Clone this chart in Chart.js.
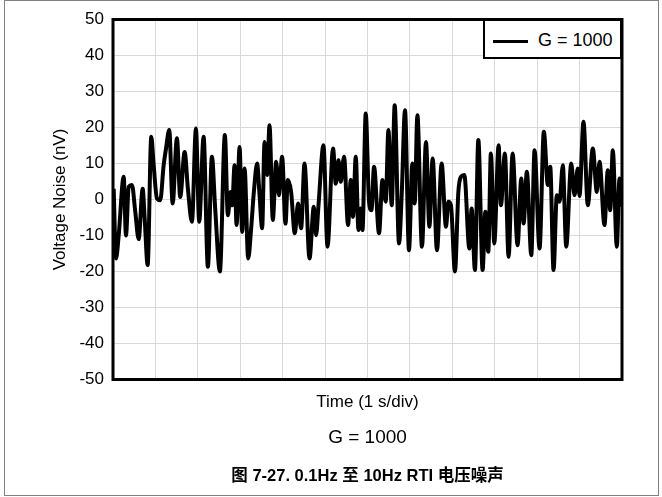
<!DOCTYPE html>
<html>
<head>
<meta charset="utf-8">
<script src="https://cdn.jsdelivr.net/npm/chart.js@4/dist/chart.umd.min.js"></script>
<style>
  html, body { margin: 0; padding: 0; background: #fff; }
  #wrap { position: relative; width: 662px; height: 497px; overflow: hidden;
          font-family: "Liberation Sans", Arial, "Noto Sans CJK SC", sans-serif; }
  #frame { position: absolute; left: 4px; top: 0px; width: 653px; height: 494px; border: 1px solid #808080; }
  #c { position: absolute; left: 0; top: 0; }
  #legend { position: absolute; left: 483px; top: 19px; width: 135px; height: 36px;
            border: 2px solid #000; background: #fff; }
  #legend .sw { position: absolute; left: 8px; top: 19px; width: 35px; height: 3px; background: #000; }
  #legend .tx { position: absolute; left: 53px; top: 9px; font-size: 18px; color: #000; white-space: nowrap; }
  .cap { position: absolute; left: 113px; width: 509px; text-align: center; color: #000; white-space: nowrap; }
  #gain { top: 426px; font-size: 19px; }
  #title { top: 462px; font-size: 16.5px; font-weight: bold; font-family: "Liberation Sans", Arial, "Noto Sans CJK SC", sans-serif; }
</style>
</head>
<body>
<div id="wrap">
  <div id="frame"></div>
  <canvas id="c" width="662" height="497"></canvas>
  <div id="legend"><div class="sw"></div><div class="tx"></div></div>
  <div class="cap" id="gain"></div>
  <div class="cap" id="title"></div>
</div>
<script>
// ---- data ----
const seriesLabel = "G = 1000";
const xAxisTitle = "Time (1 s/div)";
const yAxisTitle = "Voltage Noise (nV)";
const gainText = "G = 1000";
const figureTitle = "图 7-27. 0.1Hz 至 10Hz RTI 电压噪声";
const yTickValues = [50, 40, 30, 20, 10, 0, -10, -20, -30, -40, -50];

// time in seconds (1 s per division, 12 divisions)
const timeS = [
  0.016, 0.071, 0.134, 0.252, 0.306, 0.370, 0.447, 0.525, 0.605, 0.699,
  0.747, 0.817, 0.902, 0.959, 1.036, 1.114, 1.194, 1.248, 1.326, 1.406,
  1.507, 1.585, 1.689, 1.766, 1.861, 1.955, 2.032, 2.136, 2.237, 2.332,
  2.409, 2.520, 2.638, 2.708, 2.772, 2.810, 2.866, 2.913, 2.984, 3.045,
  3.102, 3.187, 3.257, 3.321, 3.398, 3.455, 3.516, 3.573, 3.634, 3.690,
  3.768, 3.846, 3.910, 3.987, 4.067, 4.122, 4.199, 4.286, 4.364, 4.435,
  4.515, 4.633, 4.734, 4.788, 4.845, 4.962, 5.057, 5.188, 5.252, 5.316,
  5.370, 5.447, 5.542, 5.605, 5.659, 5.723, 5.787, 5.841, 5.881, 5.959,
  6.036, 6.093, 6.154, 6.272, 6.352, 6.430, 6.493, 6.571, 6.641, 6.743,
  6.806, 6.884, 6.978, 7.058, 7.113, 7.176, 7.284, 7.379, 7.459, 7.536,
  7.638, 7.748, 7.850, 7.906, 7.967, 8.062, 8.142, 8.203, 8.283, 8.401,
  8.455, 8.533, 8.613, 8.714, 8.778, 8.848, 8.909, 8.989, 9.091, 9.145,
  9.239, 9.326, 9.421, 9.538, 9.626, 9.680, 9.757, 9.861, 9.939, 10.056,
  10.158, 10.252, 10.308, 10.386, 10.464, 10.528, 10.605, 10.685, 10.803, 10.880,
  10.958, 10.998, 11.092, 11.194, 11.312, 11.406, 11.470, 11.587, 11.665, 11.722,
  11.783, 11.878, 11.941, 11.976
];
// voltage noise in nV
const noiseNV = [
  3, -16.4, -10, 6.3, -10, 3.5, 4, -3.4, -11, 3,
  -5.3, -18.2, 17.4, 9.5, 0.3, -0.2, 9.5, 14, 19.3, -1.1,
  17, 0.7, 13.2, 3, -6.2, 19.7, -6.2, 17.4, -18.7, 11.9,
  -2.5, -20, 17.9, -4.4, 2.1, -1.6, 9.5, -7.1, 14.6, -9,
  8.6, -16.4, -8, 2.1, 10, 1.2, -8, 16, 6.8, 20.6,
  -5.7, 10.5, 1.2, 11.9, -6.7, 5.4, 2.1, -9.4, -1.1, -8,
  10, -16.4, -2, -9.9, -1.6, 15.1, -13.1, 14.2, 4.4, 10.9,
  4.9, 11.9, -7.1, 5.4, -4.8, 11.9, -8.5, -2.5, -8.5, 23.9,
  -0.6, -3, 9.1, -9.4, 5.4, -0.6, 19.3, -1.6, 26.2, -12.2,
  1.2, 24.8, -14.1, 10, -1.1, 23.4, -13.1, 16, -7.6, 11.4,
  -14.1, 10, -7.6, -0.6, -1.6, -20, 2.1, 6.3, 6.8, -13.6,
  -2.5, -19.6, 16.5, -19.6, -3.4, -14.5, 12.8, -12.2, 15.1, -1.6,
  12.8, -15.9, 12.8, -12.7, 5.8, -6.7, 7.7, -15.5, 13.7, -13.6,
  18.8, 4, 9.1, -19.6, 1.2, -0.6, 9.5, -13.1, 10, 1.2,
  8.6, 1, 21.6, -1.6, 14.2, 2.1, 10.5, -7.1, 8.1, -3,
  13.7, -13.1, 5.8, -2
];

document.querySelector('#legend .tx').textContent = seriesLabel;
document.getElementById('gain').textContent = gainText;
document.getElementById('title').textContent = figureTitle;

const FONT = '"Liberation Sans", Arial, sans-serif';
const frameBox = {
  id: 'frameBox',
  afterDatasetsDraw(chart) {
    const a = chart.chartArea, ctx = chart.ctx;
    ctx.save();
    ctx.strokeStyle = '#000';
    ctx.lineWidth = 3;
    ctx.strokeRect(a.left, a.top, a.right - a.left, a.bottom - a.top);
    ctx.restore();
  }
};

new Chart(document.getElementById('c'), {
  type: 'line',
  data: {
    datasets: [{
      label: seriesLabel,
      data: timeS.map((t, i) => ({ x: t, y: noiseNV[i] })),
      borderColor: '#000',
      borderWidth: 4,
      pointRadius: 0,
      cubicInterpolationMode: 'monotone',
      fill: false
    }]
  },
  options: {
    responsive: false,
    animation: false,
    events: [],
    layout: { padding: { top: 19.5, right: 40, left: 0, bottom: 0 } },
    plugins: { legend: { display: false }, title: { display: false }, tooltip: { enabled: false } },
    scales: {
      x: {
        type: 'linear', min: 0, max: 12,
        ticks: { display: false, stepSize: 1 },
        grid: { color: '#d9d9d9', lineWidth: 1, drawTicks: false },
        border: { display: false },
        title: { display: true, text: xAxisTitle, color: '#000',
                 font: { family: FONT, size: 17 }, padding: { top: 0, bottom: 84 } },
        afterFit(s) { s.height = 117.5; }
      },
      y: {
        min: -50, max: 50,
        afterBuildTicks(s) { s.ticks = yTickValues.map(v => ({ value: v })); },
        ticks: { color: '#000', font: { family: FONT, size: 17 }, padding: 9 },
        grid: { color: '#d9d9d9', lineWidth: 1, drawTicks: false },
        border: { display: false },
        title: { display: true, text: yAxisTitle, color: '#000',
                 font: { family: FONT, size: 17 }, padding: { top: 50, bottom: 0 } },
        afterFit(s) { s.width = 113; }
      }
    }
  },
  plugins: [frameBox]
});
</script>
</body>
</html>
